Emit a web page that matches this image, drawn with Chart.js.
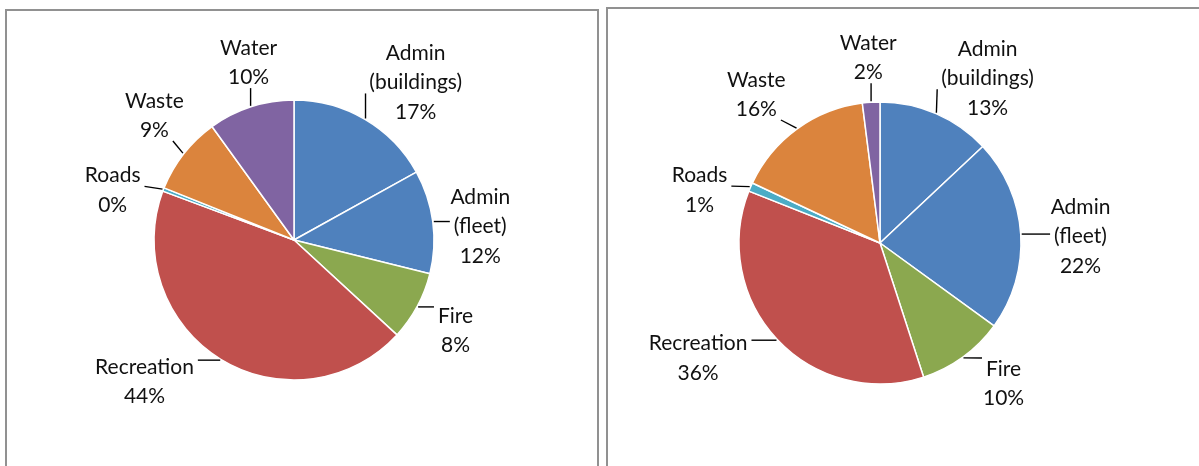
<!DOCTYPE html>
<html>
<head>
<meta charset="utf-8">
<script src="https://cdn.jsdelivr.net/npm/chart.js"></script>
<style>
  body { margin: 0; background: #fff; width: 1199px; height: 466px; overflow: hidden; position: relative; }
  .box { position: absolute; border: 2px solid #919191; box-sizing: border-box; }
  #box1 { left: 5px; top: 9px; width: 594px; height: 480px; }
  #box2 { left: 606px; top: 7px; width: 600px; height: 480px; }
  canvas { position: absolute; top: 0; }
  #c1 { left: 0; }
  #c2 { left: 600px; }
</style>
</head>
<body>
<div class="box" id="box1"></div>
<div class="box" id="box2"></div>
<canvas id="c1" width="600" height="466"></canvas>
<canvas id="c2" width="599" height="466"></canvas>
<script>
const categories = [['Admin', '(buildings)'], ['Admin', '(fleet)'], ['Fire'], ['Recreation'], ['Roads'], ['Waste'], ['Water']];
const sharesLeft = [17, 12, 8, 44, 0.4, 9, 10];
const sharesRight = [13, 22, 10, 36, 1, 16, 2];
const sliceColors = ['#4F81BD', '#4F81BD', '#8BA84F', '#C0504D', '#4BACC6', '#DB843D', '#8064A2'];

// label nudges (px) relative to the computed outside position
const nudgeLeft = [[18, 17], [0, 13], [7, 2], [-41, -18], [-8, 18], [8, -9], [12, 1]];
const nudgeRight = [[26, 22], [12, 6], [18, -12], [-30, -14], [-9, 22], [-13, 4], [0, 3]];

const FONT = '21px Lato, "Open Sans", sans-serif';
const LH = 29.5;
const GAP = 18;

const outsideLabels = {
  id: 'outsideLabels',
  afterDatasetsDraw(chart, args, opts) {
    const ctx = chart.ctx;
    const meta = chart.getDatasetMeta(0);
    const data = chart.data.datasets[0].data;
    const total = data.reduce((a, b) => a + b, 0);
    ctx.save();
    ctx.font = FONT;
    ctx.fillStyle = '#111';
    ctx.strokeStyle = '#000';
    ctx.lineWidth = 1.4;
    ctx.textAlign = 'center';
    ctx.textBaseline = 'middle';
    meta.data.forEach((arc, i) => {
      const p = arc.getProps(['x', 'y', 'startAngle', 'endAngle', 'outerRadius'], true);
      const mid = (p.startAngle + p.endAngle) / 2;
      const ux = Math.cos(mid), uy = Math.sin(mid);
      const lines = chart.data.labels[i].concat([Math.round(data[i] / total * 100) + '%']);
      const widths = lines.map(t => ctx.measureText(t).width);
      const w = Math.max(...widths);
      const h = lines.length * LH;
      const nd = opts.nudge[i];
      const cx = p.x + (p.outerRadius + GAP) * ux + ux * w / 2 + nd[0];
      const cy = p.y + (p.outerRadius + GAP) * uy + uy * h / 2 + nd[1];
      const top = cy - h / 2;
      lines.forEach((t, k) => ctx.fillText(t, cx, top + LH * (k + 0.5)));

      // leader line to the nearest text line box
      const x0 = p.x + (p.outerRadius + 1) * ux;
      const y0 = p.y + (p.outerRadius + 1) * uy;
      let best = null;
      lines.forEach((t, k) => {
        const bx0 = cx - widths[k] / 2 - 4, bx1 = cx + widths[k] / 2 + 4;
        const by0 = top + LH * k + 4, by1 = top + LH * (k + 1) - 4;
        const qx = Math.min(Math.max(x0, bx0), bx1);
        const qy = Math.min(Math.max(y0, by0), by1);
        const d = Math.hypot(qx - x0, qy - y0);
        if (!best || d < best.d) best = {qx, qy, d, side: (qx === bx0 || qx === bx1) && qy !== by0 && qy !== by1};
      });
      if (best.d > 5) {
        ctx.beginPath();
        ctx.moveTo(x0, y0);
        if (best.side && Math.abs(best.qx - x0) > 12 && Math.abs(best.qy - y0) > 4) {
          const dir = best.qx > x0 ? 1 : -1;
          ctx.lineTo(best.qx - dir * 8, best.qy);
        }
        ctx.lineTo(best.qx, best.qy);
        ctx.stroke();
      }
    });
    ctx.restore();
  }
};

function pieChart(id, shares, nudge, cx, cy, r, W, H) {
  const border = 1.5;
  const size = 2 * r + border;
  const left = cx - size / 2, topPad = cy - size / 2;
  return new Chart(document.getElementById(id), {
    type: 'pie',
    data: {
      labels: categories,
      datasets: [{
        data: shares,
        backgroundColor: sliceColors,
        borderColor: '#fff',
        borderWidth: border,
        hoverOffset: 0
      }]
    },
    options: {
      responsive: false,
      animation: false,
      events: [],
      layout: { padding: { left: left, top: topPad, right: W - left - size, bottom: H - topPad - size } },
      plugins: {
        legend: { display: false },
        tooltip: { enabled: false },
        outsideLabels: { nudge: nudge }
      }
    },
    plugins: [outsideLabels]
  });
}

pieChart('c1', sharesLeft, nudgeLeft, 294, 240, 140, 600, 466);
pieChart('c2', sharesRight, nudgeRight, 280, 243, 141, 599, 466);
</script>
</body>
</html>
